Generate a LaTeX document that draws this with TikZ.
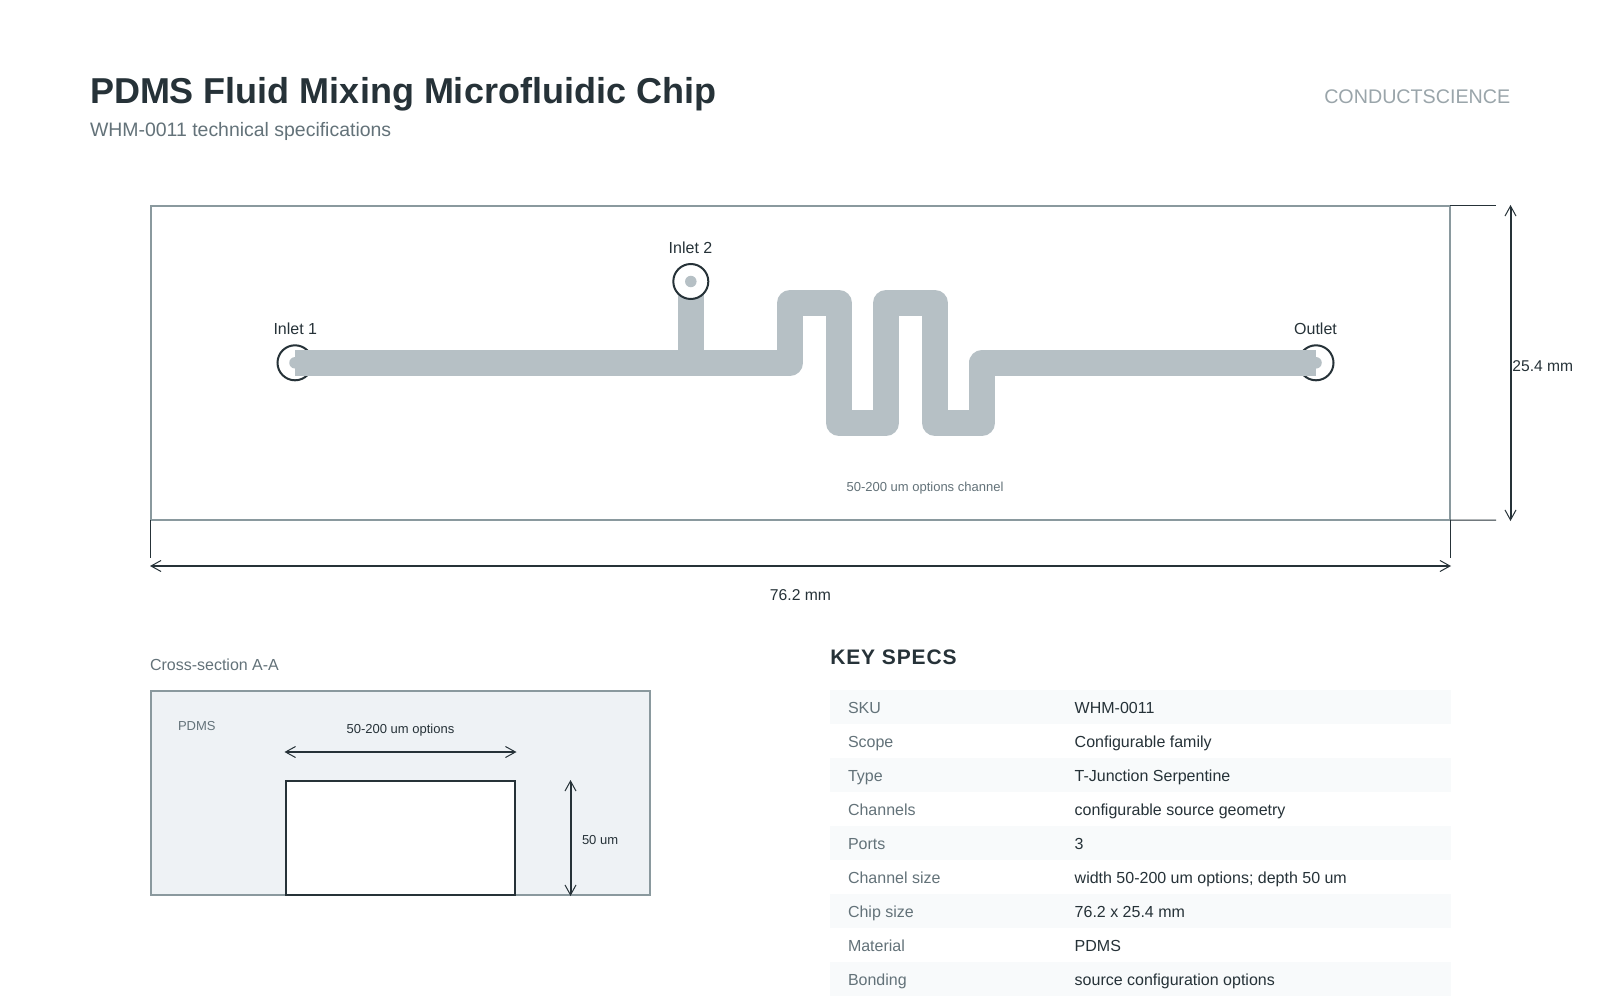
\documentclass[tikz,border=0pt]{standalone}
\usepackage{fontspec}
\setmainfont{Liberation Sans}
\newfontfamily\spacedfont[LetterSpace=4.2]{Liberation Sans}
\usetikzlibrary{arrows.meta}
\definecolor{ink}{HTML}{263238}
\definecolor{muted}{HTML}{637279}
\definecolor{faint}{HTML}{9AA5AA}
\definecolor{edge}{HTML}{8A999E}
\definecolor{chan}{HTML}{B6C0C5}
\definecolor{panel}{HTML}{EEF2F5}
\definecolor{stripe}{HTML}{F8FAFB}
\newcommand{\fs}[1]{\fontsize{#1}{#1}\selectfont}
\tikzset{
  txt/.style={inner sep=0pt,outer sep=0pt,anchor=base west},
  txtc/.style={inner sep=0pt,outer sep=0pt,anchor=base},
  lab/.style={txt,text=muted,font=\fs{16}},
  val/.style={txt,text=ink,font=\fs{16}},
  boxed/.style={line width=2pt,anchor=north west,inner sep=0pt,outer sep=0pt},
  chanline/.style={draw=chan,line width=26pt,line join=round,line cap=butt},
  portring/.style={circle,draw=ink,fill=white,line width=2pt,minimum size=35pt,inner sep=0pt,outer sep=0pt},
  portdot/.style={circle,fill=chan,minimum size=11.5pt,inner sep=0pt,outer sep=0pt},
  ext/.style={draw=ink,line width=1pt},
  dimline/.style={draw=ink,line width=2pt,{Straight Barb[length=10pt,width=11pt,line width=1pt]}-{Straight Barb[length=10pt,width=11pt,line width=1pt]}}
}
\begin{document}
\begin{tikzpicture}[x=1pt,y=-1pt]
\useasboundingbox[fill=white] (0,0) rectangle (1600,1000);
% header
\node[txt,text=ink,font=\fs{36}\bfseries] (title) at (90,103.3) {PDMS Fluid Mixing Microfluidic Chip};
\node[txt,text=muted,font=\fs{19.45}] (subtitle) at (90,136.5) {WHM-0011 technical specifications};
\node[inner sep=0pt,anchor=base east,text=faint,font=\fs{19.7}] (brand) at (1510.5,104) {CONDUCTSCIENCE};
% chip
\node[boxed,draw=edge,minimum width=1299.4pt,minimum height=314.2pt] (chipbox) at (150.6,205.9) {};
\coordinate (tr) at (chipbox.north east);
\coordinate (bl) at (chipbox.south west);
\coordinate (br) at (chipbox.south east);
% branch
\coordinate (i2) at (690.8,281.5);
\coordinate (tee) at (690.8,362.8);
\draw[chanline] (i2) -- (tee);
% ports
\node[portring] (inlet1) at (295,362.8) {};
\node[portring] (inlet2) at (i2) {};
\node[portring] (outlet) at (1316,362.8) {};
\node[portdot] (dot1) at (inlet1) {};
\node[portdot] (dot2) at (inlet2) {};
\node[portdot] (dot3) at (outlet) {};
% main channel
\draw[chanline] (inlet1.center) -- (790,362.8) -- (790,303) -- (839,303) -- (839,423) -- (886,423) -- (886,303) -- (935,303) -- (935,423) -- (982,423) -- (982,362.8) -- (outlet.center);
% labels
\node[txtc,text=ink,font=\fs{16}] (l1) at (295.3,334.3) {Inlet 1};
\node[txtc,text=ink,font=\fs{16}] (l2) at (690.5,254) {Inlet 2};
\node[txtc,text=ink,font=\fs{16}] (l3) at (1315.5,334.3) {Outlet};
\node[txtc,text=muted,font=\fs{13}] (chlab) at (925,491) {50-200 um options channel};
% dims
\coordinate (rt) at (1496,205.9);
\coordinate (rb) at (1496,520.1);
\coordinate (bd1) at (150.6,558);
\coordinate (bd2) at (1450,558);
\draw[ext] (tr) -- (rt);
\draw[ext] (br) -- (rb);
\draw[ext] (bl) -- (bd1);
\draw[ext] (br) -- (bd2);
\coordinate (va) at (1510.5,205);
\coordinate (vb) at (1510.5,521);
\coordinate (ha) at (150,566);
\coordinate (hb) at (1451,566);
\draw[dimline] (va) -- (vb);
\draw[dimline] (ha) -- (hb);
\node[txt,text=ink,font=\fs{15.6}] (h) at (1512.4,371) {25.4 mm};
\node[txtc,text=ink,font=\fs{15.7}] (w) at (800.5,600.5) {76.2 mm};
% cross section
\node[txt,text=muted,font=\fs{16}] (cs) at (150,670) {Cross-section A-A};
\node[boxed,draw=edge,fill=panel,minimum width=499.5pt,minimum height=204pt] (pdms) at (150.6,691) {};
\node[txt,text=muted,font=\fs{13}] (pl) at (178,730) {PDMS};
\node[boxed,draw=ink,fill=white,minimum width=229.6pt,minimum height=114.4pt] (cav) at (285.7,780.6) {};
\coordinate (ca) at (284.5,752);
\coordinate (cb) at (516.5,752);
\draw[dimline] (ca) -- (cb);
\node[txtc,text=ink,font=\fs{13}] (cw) at (400.5,733) {50-200 um options};
\coordinate (da) at (570.5,780);
\coordinate (db) at (570.5,896);
\draw[dimline] (da) -- (db);
\node[txt,text=ink,font=\fs{13}] (dl) at (582,844) {50 um};
% specs
\node[txt,text=ink,font=\fs{21}\spacedfont\bfseries] (ks) at (830.3,664) {KEY SPECS};
\foreach \yy in {690,758,826,894,962} {\fill[stripe] (830,\yy) rectangle (1451,\yy+34);}
\node[lab] (a1) at (848,713.6) {SKU};          \node[val] (b1) at (1074.7,713.6) {WHM-0011};
\node[lab] (a2) at (848,747.6) {Scope};        \node[val] (b2) at (1074.7,747.6) {Configurable family};
\node[lab] (a3) at (848,781.6) {Type};         \node[val] (b3) at (1074.7,781.6) {T-Junction Serpentine};
\node[lab] (a4) at (848,815.6) {Channels};     \node[val] (b4) at (1074.7,815.6) {configurable source geometry};
\node[lab] (a5) at (848,849.6) {Ports};        \node[val] (b5) at (1074.7,849.6) {3};
\node[lab] (a6) at (848,883.6) {Channel size}; \node[val] (b6) at (1074.7,883.6) {width 50-200 um options; depth 50 um};
\node[lab] (a7) at (848,917.6) {Chip size};    \node[val] (b7) at (1074.7,917.6) {76.2 x 25.4 mm};
\node[lab] (a8) at (848,951.6) {Material};     \node[val] (b8) at (1074.7,951.6) {PDMS};
\node[lab] (a9) at (848,985.6) {Bonding};      \node[val] (b9) at (1074.7,985.6) {source configuration options};
\end{tikzpicture}
\end{document}
